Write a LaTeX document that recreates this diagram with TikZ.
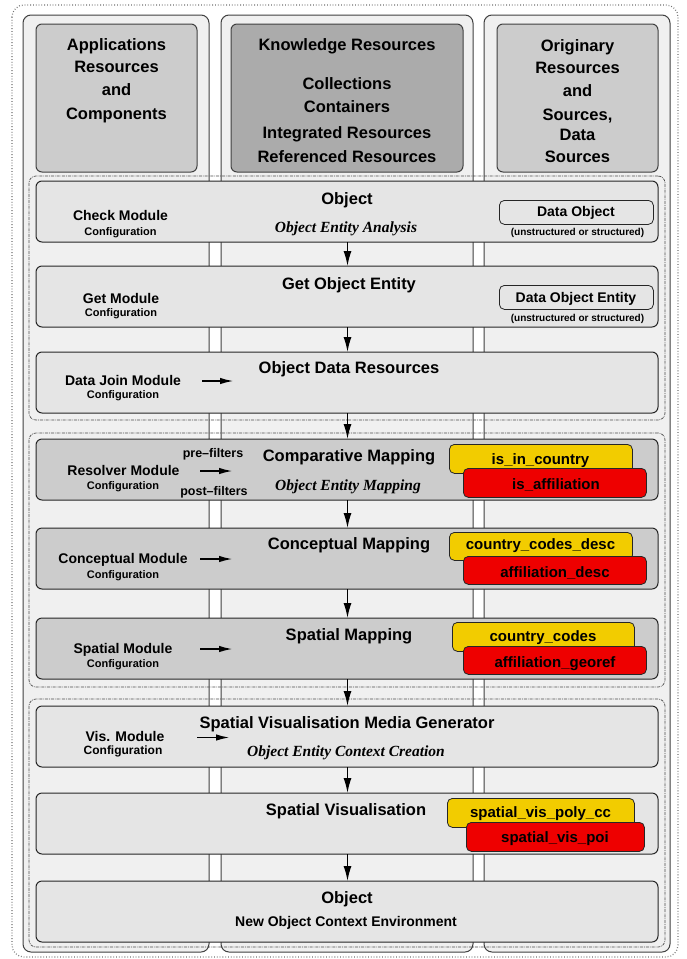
\documentclass[tikz,border=0pt]{standalone}
\usepackage{fontspec}
\setmainfont{Liberation Sans}
\newfontfamily\tnr{Liberation Serif}
\usetikzlibrary{arrows.meta}
\definecolor{tagyellow}{RGB}{242,204,0}
\definecolor{tagred}{RGB}{238,0,0}
\begin{document}
\begin{tikzpicture}[x=1pt,y=-1pt,
  colp/.style={draw=black!75, fill=black!6, rounded corners=8pt, line width=1pt, inner sep=0pt, outer sep=0pt, anchor=north west},
  hdr/.style={draw=black!75, fill=black!20, rounded corners=6pt, line width=1pt, inner sep=0pt, outer sep=0pt, anchor=north west},
  hdrdark/.style={hdr, fill=black!33},
  stage/.style={draw=black!85, fill=black!10, rounded corners=6pt, line width=1pt, inner sep=0pt, outer sep=0pt, anchor=north west, minimum width=622pt, minimum height=61pt},
  stagedark/.style={stage, fill=black!20},
  dobj/.style={draw=black!85, fill=black!10, rounded corners=5pt, line width=0.8pt, inner sep=0pt, anchor=north west, minimum width=154pt, minimum height=24pt},
  tagbox/.style={draw=black!85, rounded corners=5pt, line width=0.8pt, inner sep=0pt, anchor=north west},
  ytag/.style={tagbox, fill=tagyellow},
  rtag/.style={tagbox, fill=tagred},
  grp/.style={draw=black!70, line width=0.7pt, dash pattern=on 3pt off 1pt on 0.7pt off 1pt, rounded corners=7pt, inner sep=0pt, outer sep=0pt, anchor=north west, minimum width=636pt},
  outerframe/.style={draw=black!55, line width=1.2pt, dash pattern=on 0.8pt off 2pt, rounded corners=12pt},
  varr/.style={-{Latex[length=15pt,width=8pt]}, line width=1.4pt},
  harr/.style={-{Latex[length=14pt,width=6.5pt]}, line width=1.9pt},
  ttl/.style={anchor=base, inner sep=0pt, font=\fontsize{16.5}{19}\selectfont\bfseries},
  ital/.style={anchor=base, inner sep=0pt, font=\tnr\fontsize{15.5}{18}\selectfont\bfseries\itshape},
  modl/.style={anchor=base, inner sep=0pt, font=\fontsize{14}{16}\selectfont\bfseries},
  conf/.style={anchor=base, inner sep=0pt, font=\fontsize{11}{13}\selectfont\bfseries},
  smalltxt/.style={anchor=base, inner sep=0pt, font=\fontsize{10}{12}\selectfont\bfseries},
  filt/.style={anchor=base, inner sep=0pt, font=\fontsize{12.5}{14}\selectfont\bfseries},
  tagtxt/.style={anchor=base, inner sep=0pt, font=\fontsize{15}{17}\selectfont\bfseries},
  dotxt/.style={anchor=base, inner sep=0pt, font=\fontsize{14}{16}\selectfont\bfseries}
]
\useasboundingbox (0,0) rectangle (687,959);
\fill[white] (0,0) rectangle (687,959);
% outer frame
\draw[outerframe] (12,5) rectangle (678,957);
% columns
\node[colp, minimum width=186pt, minimum height=937pt] (c1) at (23,15) {};
\node[colp, minimum width=252pt, minimum height=937pt] (c2) at (221,15) {};
\node[colp, minimum width=186pt, minimum height=937pt] (c3) at (484,15) {};
% headers
\node[hdr, minimum width=161pt, minimum height=148pt] (h1) at (36,24) {};
\node[hdrdark, minimum width=232pt, minimum height=148pt] (h2) at (231,24) {};
\node[hdr, minimum width=161pt, minimum height=148pt] (h3) at (497,24) {};
\node[ttl] (h1a) at (116.5,50) {Applications};
\node[ttl] (h1b) at (116.5,72.5) {Resources};
\node[ttl] (h1c) at (116.5,95.5) {and};
\node[ttl] (h1d) at (116.5,119) {Components};
\node[ttl] (h2a) at (347,50) {Knowledge Resources};
\node[ttl] (h2b) at (347,89) {Collections};
\node[ttl] (h2c) at (347,112) {Containers};
\node[ttl] (h2d) at (347,138.5) {Integrated Resources};
\node[ttl] (h2e) at (347,162) {Referenced Resources};
\node[ttl] (h3a) at (577.5,51) {Originary};
\node[ttl] (h3b) at (577.5,73.5) {Resources};
\node[ttl] (h3c) at (577.5,96.5) {and};
\node[ttl] (h3d) at (577.5,120) {Sources,};
\node[ttl] (h3e) at (577.5,140) {Data};
\node[ttl] (h3f) at (577.5,162.5) {Sources};
% groups
\node[grp, minimum height=244pt] (g1) at (29,176) {};
\node[grp, minimum height=254pt] (g2) at (29,433) {};
\node[grp, minimum height=248pt] (g3) at (29,699) {};
% stage boxes
\node[stage] (b1) at (36,181) {};
\node[stage] (b2) at (36,266) {};
\node[stage] (b3) at (36,352) {};
\node[stagedark] (b4) at (36,439) {};
\node[stagedark] (b5) at (36,528) {};
\node[stagedark] (b6) at (36,618) {};
\node[stage] (b7) at (36,706) {};
\node[stage] (b8) at (36,793) {};
\node[stage] (b9) at (36,881) {};
% box 1
\node[ttl] (t1) at (347,204.8) {Object};
\node[ital] (t1i) at (346,232) {Object Entity Analysis};
\node[modl] (m1) at (120.5,220) {Check Module};
\node[conf] (m1c) at (120.5,235) {Configuration};
\node[dobj] (d1) at (499,200) {};
\node[dotxt] (d1t) at (576,216.7) {Data Object};
\node[smalltxt] (d1s) at (577.5,235) {(unstructured or structured)};
% box 2
\node[ttl] (t2) at (349,289) {Get Object Entity};
\node[modl] (m2) at (121,303.3) {Get Module};
\node[conf] (m2c) at (121,316) {Configuration};
\node[dobj] (d2) at (499,285) {};
\node[dotxt] (d2t) at (576,302.7) {Data Object Entity};
\node[smalltxt] (d2s) at (577.5,321) {(unstructured or structured)};
% box 3
\node[ttl] (t3) at (349,373.3) {Object Data Resources};
\node[modl] (m3) at (123,385) {Data Join Module};
\node[conf] (m3c) at (123,398.5) {Configuration};
\coordinate (a3s) at (202,381);
\coordinate (a3e) at (234,381);
% box 4
\node[ttl] (t4) at (349,461) {Comparative Mapping};
\node[ital] (t4i) at (348,490) {Object Entity Mapping};
\node[modl] (m4) at (123.5,475.7) {Resolver Module};
\node[conf] (m4c) at (123,489.5) {Configuration};
\node[filt] (pre) at (213,457) {pre--filters};
\node[filt] (post) at (214,495) {post--filters};
\coordinate (a4s) at (200,471);
\coordinate (a4e) at (233,471);
\node[ytag, minimum width=183pt, minimum height=29pt] (y4) at (449,444) {};
\node[tagtxt] (y4t) at (540.5,464) {is\_in\_country};
\node[rtag, minimum width=183pt, minimum height=29pt] (r4) at (463,468) {};
\node[tagtxt] (r4t) at (556,489) {is\_affiliation};
% box 5
\node[ttl] (t5) at (349,549.5) {Conceptual Mapping};
\node[modl] (m5) at (123,563.5) {Conceptual Module};
\node[conf] (m5c) at (123,578) {Configuration};
\coordinate (a5s) at (200,559);
\coordinate (a5e) at (233,559);
\node[ytag, minimum width=183pt, minimum height=28pt] (y5) at (449,532) {};
\node[tagtxt] (y5t) at (540.5,549) {country\_codes\_desc};
\node[rtag, minimum width=183pt, minimum height=28pt] (r5) at (463,556) {};
\node[tagtxt] (r5t) at (555,577) {affiliation\_desc};
% box 6
\node[ttl] (t6) at (349,640) {Spatial Mapping};
\node[modl] (m6) at (123,653.5) {Spatial Module};
\node[conf] (m6c) at (123,667.5) {Configuration};
\coordinate (a6s) at (200,649);
\coordinate (a6e) at (233,649);
\node[ytag, minimum width=182pt, minimum height=29pt] (y6) at (452,622) {};
\node[tagtxt] (y6t) at (543,641.7) {country\_codes};
\node[rtag, minimum width=183pt, minimum height=28pt] (r6) at (463,646) {};
\node[tagtxt] (r6t) at (555,667.5) {affiliation\_georef};
% box 7
\node[ttl] (t7) at (347,728) {Spatial Visualisation Media Generator};
\node[ital] (t7i) at (346,756) {Object Entity Context Creation};
\node[modl] (m7) at (125,741.5) {Vis. Module};
\node[conf, font=\fontsize{12}{14}\selectfont\bfseries] (m7c) at (123,754.5) {Configuration};
\coordinate (a7s) at (197,737.5);
\coordinate (a7e) at (230,737.5);
% box 8
\node[ttl] (t8) at (346,815) {Spatial Visualisation};
\node[ytag, minimum width=187pt, minimum height=29pt] (y8) at (447,798) {};
\node[tagtxt] (y8t) at (540.5,817.5) {spatial\_vis\_poly\_cc};
\node[rtag, minimum width=178pt, minimum height=29pt] (r8) at (466,822) {};
\node[tagtxt] (r8t) at (555,842.3) {spatial\_vis\_poi};
% box 9
\node[ttl] (t9) at (347,903.5) {Object};
\node[modl] (t9b) at (346,926.7) {New Object Context Environment};
% horizontal arrows
\draw[harr] (a3s) -- (a3e);
\draw[harr] (a4s) -- (a4e);
\draw[harr] (a5s) -- (a5e);
\draw[harr] (a6s) -- (a6e);
\draw[harr] (a7s) -- (a7e);
% vertical arrows
\foreach \u/\v in {b1/b2,b2/b3,b3/b4,b4/b5,b5/b6,b6/b7,b7/b8,b8/b9}
  \draw[varr] ([xshift=0.5pt]\u.south) -- ([xshift=0.5pt]\v.north);
\end{tikzpicture}
\end{document}
